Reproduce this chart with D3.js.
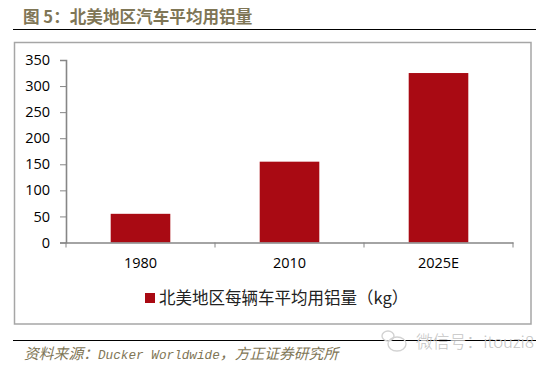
<!DOCTYPE html>
<html>
<head>
<meta charset="utf-8">
<script src="https://cdn.jsdelivr.net/npm/d3@7"></script>
<style>
html, body { margin: 0; padding: 0; background: #fff; }
svg { display: block; }
</style>
</head>
<body>
<svg id="chart" width="552" height="368"></svg>
<script>
// datos
const categories = ["1980", "2010", "2025E"];
const values = [55, 155, 325];
const yTicks = [0, 50, 100, 150, 200, 250, 300, 350];

// puntuacion de ancho completo con escapes
const title = "图 5\uFF1A北美地区汽车平均用铝量";
const legendLabel = "北美地区每辆车平均用铝量\uFF08kg\uFF09";
const sourceParts = ["资料来源\uFF1A", "Ducker Worldwide", "\uFF0C方正证券研究所"];
const watermark = "微信号\uFF1Aitouzi8";

const cjk = "'Noto Sans CJK SC', sans-serif";
const latin = "'Open Sans', 'Noto Sans', sans-serif";
const mono = "'Liberation Mono', 'Noto Sans CJK SC', monospace";

const svg = d3.select("#chart");

// titulo y reglas
svg.append("text").attr("x", 23).attr("y", 23)
    .attr("font-family", cjk).attr("font-size", 16.6).attr("font-weight", 700)
    .attr("fill", "#7f7656").text(title);
svg.append("line").attr("x1", 13).attr("x2", 536).attr("y1", 29.5).attr("y2", 29.5)
    .attr("stroke", "#000").attr("stroke-width", 1.2);
svg.append("line").attr("x1", 13).attr("x2", 536).attr("y1", 340.5).attr("y2", 340.5)
    .attr("stroke", "#000").attr("stroke-width", 1.2);

// marco del grafico
svg.append("rect").attr("x", 14.5).attr("y", 42.5).attr("width", 516.5).attr("height", 281.5)
    .attr("fill", "#fff").attr("stroke", "#a6a6a6").attr("stroke-width", 1.5);

// escalas
const x = d3.scaleBand().domain(categories).range([66, 513])
    .paddingInner(0.6).paddingOuter(0.3);
const y = d3.scaleLinear().domain([0, 350]).range([242.5, 60]);

// barras
svg.selectAll("rect.bar").data(values).enter().append("rect")
    .attr("class", "bar")
    .attr("x", (d, i) => x(categories[i]))
    .attr("y", d => y(d))
    .attr("width", x.bandwidth())
    .attr("height", d => y(0) - y(d))
    .attr("fill", "#a90a13");

// ejes
const yAxis = svg.append("g").attr("transform", "translate(66,0)")
    .call(d3.axisLeft(y).tickValues(yTicks).tickSize(6).tickPadding(10));
const xAxis = svg.append("g").attr("transform", "translate(0,242.5)")
    .call(d3.axisBottom(x).tickSize(0).tickPadding(15));

// las marcas del eje x van entre categorias
const xEdges = d3.range(categories.length + 1).map(i => 66 + i * x.step());
xAxis.selectAll("line.edge").data(xEdges).enter().append("line")
    .attr("class", "edge")
    .attr("x1", d => d).attr("x2", d => d).attr("y1", 0).attr("y2", 5)
    .attr("stroke", "#868686");

[yAxis, xAxis].forEach(a => {
    a.select(".domain").attr("stroke", "#868686").attr("stroke-width", 1.6);
    a.selectAll(".tick line").attr("stroke", "#868686");
    a.selectAll("text").attr("font-family", latin).attr("font-size", 14.5).attr("fill", "#000");
});

// leyenda
svg.append("rect").attr("x", 145).attr("y", 293).attr("width", 10).attr("height", 10)
    .attr("fill", "#a90a13");
svg.append("text").attr("x", 159).attr("y", 304)
    .attr("font-family", cjk).attr("font-size", 16.5).attr("fill", "#222").text(legendLabel);

// fuente: el texto latino es mas pequeno que el chino
const sourceText = svg.append("text").attr("x", 24).attr("y", 359)
    .attr("font-family", mono).attr("font-size", 14.8).attr("font-style", "italic")
    .attr("fill", "#7f7656");
sourceText.selectAll("tspan").data(sourceParts).enter().append("tspan")
    .attr("font-size", (d, i) => i === 1 ? 12.7 : null)
    .text(d => d);

// marca de agua, la regla negra se ve a traves
svg.append("text").attr("x", 416).attr("y", 347.5)
    .attr("font-family", cjk).attr("font-size", 16.8).attr("font-weight", 300).attr("fill", "#c4c4c4")
    .text(watermark);
const wm = svg.append("g").attr("fill", "none").attr("stroke", "#d2d2d2").attr("stroke-width", 1.4);
wm.append("ellipse").attr("cx", 388).attr("cy", 336).attr("rx", 6).attr("ry", 5);
wm.append("ellipse").attr("cx", 397).attr("cy", 344).attr("rx", 9).attr("ry", 7);
</script>
</body>
</html>
